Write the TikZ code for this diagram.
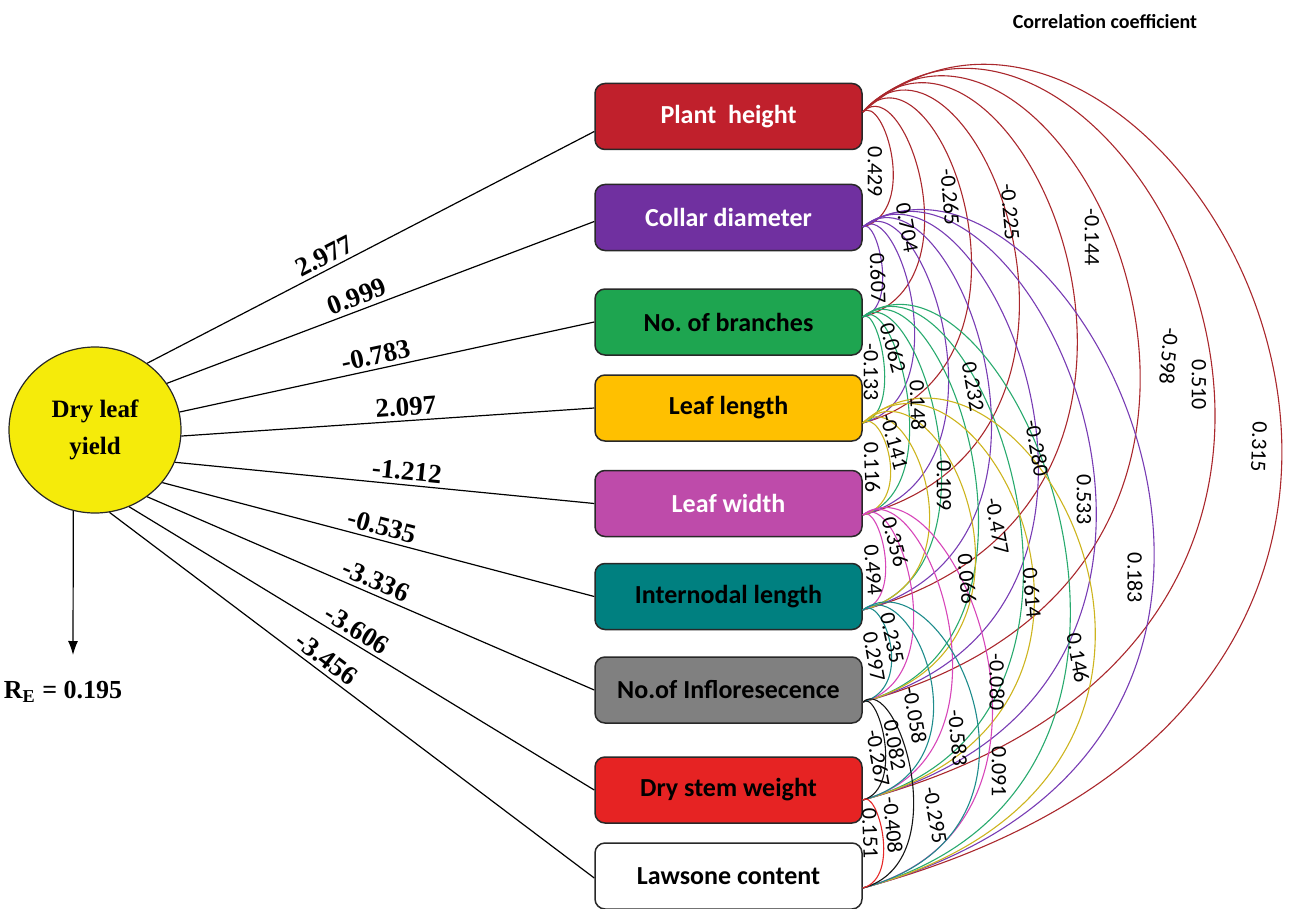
\documentclass[tikz,border=0pt]{standalone}
\usepackage{fontspec}
\setmainfont{Liberation Serif}
\newfontfamily\calf{Carlito}
\usetikzlibrary{shapes.geometric,arrows.meta}
\definecolor{fPH}{RGB}{192,32,44}
\definecolor{fCD}{RGB}{112,48,160}
\definecolor{fNB}{RGB}{30,165,80}
\definecolor{fLL}{RGB}{255,192,0}
\definecolor{fLW}{RGB}{190,75,170}
\definecolor{fIL}{RGB}{0,128,128}
\definecolor{fIF}{RGB}{128,128,128}
\definecolor{fDS}{RGB}{230,35,35}
\definecolor{fY}{RGB}{245,235,10}
\definecolor{aPH}{RGB}{170,40,45}
\definecolor{aCD}{RGB}{120,60,180}
\definecolor{aNB}{RGB}{40,170,110}
\definecolor{aLL}{RGB}{205,180,30}
\definecolor{aLW}{RGB}{215,70,185}
\definecolor{aIL}{RGB}{30,140,140}
\definecolor{aIF}{RGB}{20,20,20}
\definecolor{aDS}{RGB}{230,40,40}
\definecolor{bd}{RGB}{40,40,40}
% arc from box #1 to box #2, colour #3, reach #4, rise factor #5
\newcommand\corrarc[5]{\draw[arcl,#3] (p#1) .. controls +({0.69*#4},{-#5*#4}) and +({1.85*#4},{-0.5*#4}) .. (p#2);}
\begin{document}
\begin{tikzpicture}[x=0.5pt,y=-0.5pt,
  box/.style={draw=bd, line width=0.75pt, rounded corners=5pt, minimum width=133.5pt, minimum height=33pt, inner sep=0pt, font=\calf\bfseries\fontsize{13}{15}\selectfont},
  arcl/.style={line width=0.55pt},
  cl/.style={font=\calf\fontsize{11}{12}\selectfont, inner sep=0pt},
  pl/.style={font=\bfseries\fontsize{13.5}{15}\selectfont, inner sep=2pt},
  pline/.style={line width=0.6pt, draw=black}]
\useasboundingbox (0,0) rectangle (1289,909);

% left circle
\node[ellipse, draw=bd, line width=0.6pt, fill=fY, minimum width=86pt, minimum height=83pt, inner sep=0pt, align=center, font=\bfseries\fontsize{12.5}{18.5}\selectfont] (dly) at (95,430) {Dry leaf\\yield};

% boxes
\node[box, fill=fPH, text=white] (b1) at (728.5,116.5) {Plant\ \ height};
\node[box, fill=fCD, text=white] (b2) at (728.5,217.5) {Collar diameter};
\node[box, fill=fNB, text=black] (b3) at (728.5,322) {No.\ of branches};
\node[box, fill=fLL, text=black] (b4) at (728.5,408) {Leaf length};
\node[box, fill=fLW, text=white] (b5) at (728.5,503.5) {Leaf width};
\node[box, fill=fIL, text=black] (b6) at (728.5,596.5) {Internodal length};
\node[box, fill=fIF, text=black] (b7) at (728.5,690) {No.of Infloresecence};
\node[box, fill=fDS, text=black] (b8) at (728.5,790) {Dry stem weight};
\node[box, fill=white, text=black] (b9) at (728.5,876) {Lawsone content};

% line end points on boxes
\path (b1.west) ++(0,15) coordinate (e1);
\path (b2.west) ++(0,4) coordinate (e2);
\path (b3.west) coordinate (e3);
\path (b4.west) coordinate (e4);
\path (b5.west) coordinate (e5);
\path (b6.west) coordinate (e6);
\path (b7.west) coordinate (e7);
\path (b8.west) coordinate (e8);
\path (b9.west) ++(0,2) coordinate (e9);

\draw[pline] (dly.52) -- node[pl, sloped, above, pos=0.41] {2.977} (e1);
\draw[pline] (dly.33) -- node[pl, sloped, above, pos=0.456] {0.999} (e2);
\draw[pline] (dly.12) -- node[pl, sloped, above, pos=0.48] {-0.783} (e3);
\draw[pline] (dly.-4) -- node[pl, sloped, above, pos=0.546] {2.097} (e4);
\draw[pline] (dly.-22) -- node[pl, sloped, above, pos=0.55] {-1.212} (e5);
\draw[pline] (dly.-38) -- node[pl, sloped, above, pos=0.5] {-0.535} (e6);
\draw[pline] (dly.-52) -- node[pl, sloped, above, pos=0.5] {-3.336} (e7);
\draw[pline] (dly.-66) -- node[pl, sloped, above, pos=0.475] {-3.606} (e8);
\draw[pline] (dly.-80) -- node[pl, sloped, above, pos=0.43] {-3.456} (e9);

% residual
\coordinate (rtip) at (73,655);
\draw[pline, -{Latex[length=7pt,width=5pt]}] (dly.-105) -- (rtip);
\node[font=\bfseries\fontsize{13}{15}\selectfont, inner sep=0pt] (re) at (63,692) {R\textsubscript{E} = 0.195};

% title
\node[font=\calf\bfseries\fontsize{10}{12}\selectfont] (ttl) at (1105,22) {Correlation coefficient};

% arc attach points
\path (b1.east) ++(0,-4.5) coordinate (p1);
\path (b2.east) ++(0,9.5) coordinate (p2);
\path (b3.east) ++(0,-5) coordinate (p3);
\path (b4.east) ++(0,15) coordinate (p4);
\path (b5.east) ++(0,11.5) coordinate (p5);
\path (b6.east) ++(0,13.5) coordinate (p6);
\path (b7.east) ++(0,12) coordinate (p7);
\path (b8.east) ++(0,10) coordinate (p8);
\path (b9.east) ++(0,12) coordinate (p9);

% correlation arcs
\corrarc{1}{2}{aPH}{30.6}{0.58}
\corrarc{1}{3}{aPH}{62}{0.7}
\corrarc{1}{4}{aPH}{109}{0.8}
\corrarc{1}{5}{aPH}{157}{0.8}
\corrarc{1}{6}{aPH}{215}{0.75}
\corrarc{1}{7}{aPH}{278}{0.7}
\corrarc{1}{8}{aPH}{353}{0.65}
\corrarc{1}{9}{aPH}{420}{0.6}
\corrarc{2}{3}{aCD}{20}{0.58}
\corrarc{2}{4}{aCD}{52}{0.58}
\corrarc{2}{5}{aCD}{86}{0.58}
\corrarc{2}{6}{aCD}{129}{0.58}
\corrarc{2}{7}{aCD}{176}{0.55}
\corrarc{2}{8}{aCD}{234}{0.5}
\corrarc{2}{9}{aCD}{292}{0.45}
\corrarc{3}{4}{aNB}{22}{0.58}
\corrarc{3}{5}{aNB}{47}{0.58}
\corrarc{3}{6}{aNB}{79}{0.58}
\corrarc{3}{7}{aNB}{116}{0.58}
\corrarc{3}{8}{aNB}{161}{0.55}
\corrarc{3}{9}{aNB}{208}{0.5}
\corrarc{4}{5}{aLL}{28}{0.58}
\corrarc{4}{6}{aLL}{67}{0.65}
\corrarc{4}{7}{aLL}{113}{0.65}
\corrarc{4}{8}{aLL}{172}{0.65}
\corrarc{4}{9}{aLL}{233}{0.6}
\corrarc{5}{6}{aLW}{23}{0.58}
\corrarc{5}{7}{aLW}{51}{0.58}
\corrarc{5}{8}{aLW}{90}{0.55}
\corrarc{5}{9}{aLW}{130}{0.5}
\corrarc{6}{7}{aIL}{29}{0.58}
\corrarc{6}{8}{aIL}{71}{0.55}
\corrarc{6}{9}{aIL}{117}{0.5}
\corrarc{7}{8}{aIF}{23}{0.58}
\corrarc{7}{9}{aIF}{51}{0.58}
\corrarc{8}{9}{aDS}{21}{0.58}

% correlation values
\node[cl, rotate=-90] (k1) at (875,172) {0.429};
\node[cl, rotate=-85] (k2) at (950,197) {-0.265};
\node[cl, rotate=-85] (k3) at (1010,212) {-0.225};
\node[cl, rotate=-90] (k4) at (1092,237) {-0.144};
\node[cl, rotate=-80] (k5) at (907,228) {0.704};
\node[cl, rotate=-88] (k6) at (878,278) {0.607};
\node[cl, rotate=-75] (k7) at (893,348) {0.062};
\node[cl, rotate=-90] (k8) at (871,372) {-0.133};
\node[cl, rotate=-80] (k9) at (973,387) {0.232};
\node[cl, rotate=-88] (k10) at (918,405) {0.148};
\node[cl, rotate=-95] (k11) at (1169,356) {-0.598};
\node[cl, rotate=-90] (k12) at (1199,385) {0.510};
\node[cl, rotate=-80] (k13) at (1037,448) {-0.280};
\node[cl, rotate=-92] (k14) at (1259,447) {0.315};
\node[cl, rotate=-75] (k15) at (894,442) {-0.141};
\node[cl, rotate=-88] (k16) at (872,467) {0.116};
\node[cl, rotate=-90] (k17) at (944,486) {0.109};
\node[cl, rotate=-90] (k18) at (1084,500) {0.533};
\node[cl, rotate=-80] (k19) at (997,526) {-0.477};
\node[cl, rotate=-75] (k20) at (895,542) {0.356};
\node[cl, rotate=-85] (k21) at (873,570) {0.494};
\node[cl, rotate=-85] (k22) at (967,579) {0.066};
\node[cl, rotate=-85] (k23) at (1032,593) {0.614};
\node[cl, rotate=-90] (k24) at (1135,578) {0.183};
\node[cl, rotate=-78] (k25) at (892,638) {0.235};
\node[cl, rotate=-80] (k26) at (874,657) {0.297};
\node[cl, rotate=-90] (k27) at (997,682) {-0.080};
\node[cl, rotate=-80] (k28) at (1078,658) {0.146};
\node[cl, rotate=-80] (k29) at (915,715) {-0.058};
\node[cl, rotate=-80] (k30) at (895,745) {0.082};
\node[cl, rotate=-80] (k31) at (878,758) {-0.267};
\node[cl, rotate=-85] (k32) at (958,738) {-0.583};
\node[cl, rotate=-90] (k33) at (999,772) {0.091};
\node[cl, rotate=-85] (k34) at (893,825) {-0.408};
\node[cl, rotate=-80] (k35) at (935,815) {-0.295};
\node[cl, rotate=-88] (k36) at (870,833) {0.151};
\end{tikzpicture}
\end{document}
